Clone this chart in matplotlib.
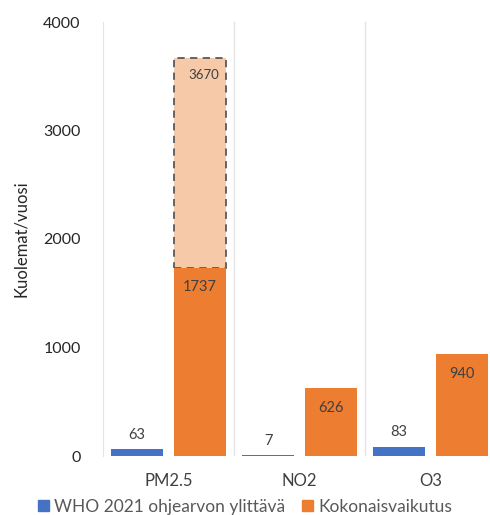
import numpy as np
import matplotlib
matplotlib.use('Agg')
from matplotlib import pyplot as plt
from matplotlib.patches import Patch

plt.rcParams['font.family'] = ['Lato', 'DejaVu Sans']

# data
categories = ['PM2.5', 'NO2', 'O3']
who_exceed = [63, 7, 83]
total_effect = [1737, 626, 940]
pm25_upper = 3670
series_names = ['WHO 2021 ohjearvon ylittävä', 'Kokonaisvaikutus']

blue = '#4472C4'
orange = '#ED7D31'
peach = '#F6C9A8'
txt = '#404040'

fig = plt.figure(figsize=(4.9, 5.15), dpi=100)
ax = fig.add_axes([103 / 490, 59 / 515, 387 / 490, 434 / 515])

x = np.arange(len(categories))
w = 0.40
off = 0.24

# upper estimate for PM2.5 (dashed box on top of the orange bar)
ax.bar(x[0] + off, pm25_upper - total_effect[0], w, bottom=total_effect[0],
       color=peach, edgecolor='#595959', linestyle=(0, (4, 3)), linewidth=1.3, zorder=2)
ax.text(x[0] + off + 0.03, pm25_upper - 160, str(pm25_upper), ha='center',
        va='center', fontsize=9.5, color=txt, zorder=4)

b1 = ax.bar(x - off, who_exceed, w, color=blue, zorder=3)
b2 = ax.bar(x + off, total_effect, w, color=orange, zorder=3)

for xi, v in zip(x - off, who_exceed):
    ax.text(xi, v + 70, str(v), ha='center', va='bottom', fontsize=10.5, color=txt)
for xi, v in zip(x + off, total_effect):
    ax.text(xi, v - 180, str(v), ha='center', va='center', fontsize=10.5, color=txt)

ax.set_xlim(-0.5, 2.455)
ax.set_ylim(0, 4000)
ax.set_yticks([0, 1000, 2000, 3000, 4000])
ax.tick_params(axis='y', length=0, labelsize=11.5, pad=16, labelcolor='#262626')
ax.tick_params(axis='x', length=0, labelsize=12, pad=12, labelcolor='#404040')
ax.set_xticks(x)
ax.set_xticklabels(categories)
ax.set_ylabel('Kuolemat/vuosi', fontsize=12, color='#262626', labelpad=10)

for s in ['top', 'right', 'bottom']:
    ax.spines[s].set_visible(False)
ax.spines['left'].set_color('#e4e4e4')
for sep in [0.5, 1.5]:
    ax.axvline(sep, color='#e4e4e4', linewidth=1, zorder=1)

handles = [Patch(color=blue), Patch(color=orange)]
fig.legend(handles, series_names, loc='lower center', bbox_to_anchor=(0.5, -0.03),
           ncol=2, frameon=False, fontsize=12.5, handlelength=0.6, handleheight=0.6,
           handletextpad=0.3, columnspacing=1.0, labelcolor='#595959')

fig.savefig('out.png', dpi=100)
